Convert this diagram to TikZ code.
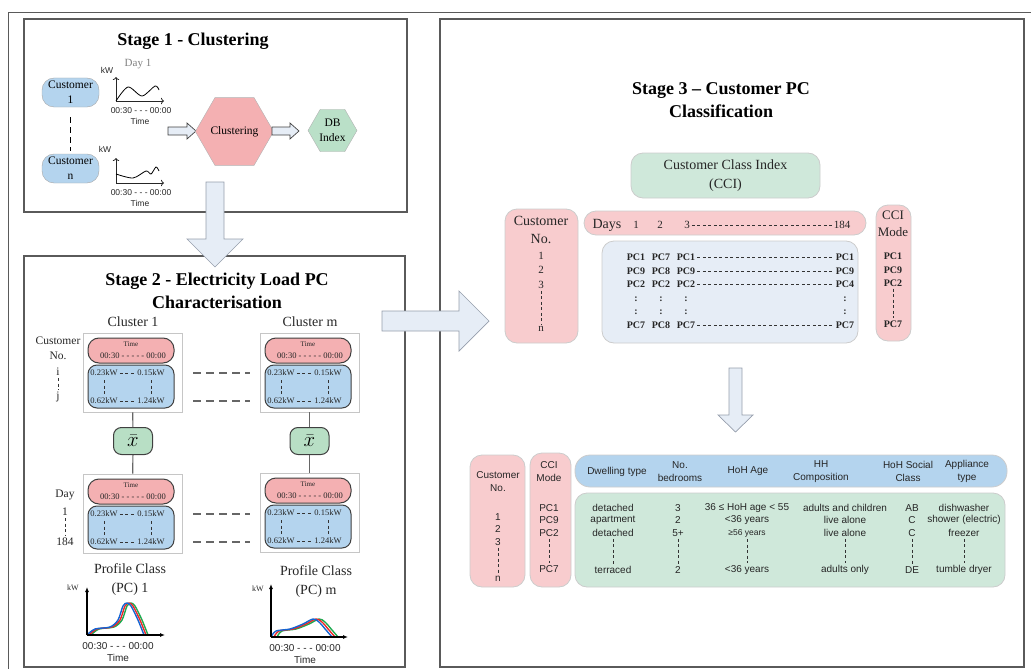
\documentclass[tikz,border=0pt]{standalone}
\usepackage{fontspec}
\setmainfont{Liberation Serif}
\setsansfont{Liberation Sans}
\usetikzlibrary{arrows.meta}
\usetikzlibrary{positioning,calc}
\usetikzlibrary{shapes.geometric}

\newcommand{\fsz}[2]{\fontsize{#1}{#2}\selectfont}

\definecolor{framegray}{RGB}{90,90,90}
\definecolor{custblue}{RGB}{180,212,238}
\definecolor{clustpink}{RGB}{244,176,178}
\definecolor{lightpink}{RGB}{248,204,206}
\definecolor{dbgreen}{RGB}{186,224,200}
\definecolor{meangreen}{RGB}{184,223,197}
\definecolor{ccigreen}{RGB}{207,232,218}
\definecolor{paleblue}{RGB}{230,237,246}
\definecolor{arrowgray}{RGB}{150,158,172}
\definecolor{pcblue}{RGB}{20,100,210}
\definecolor{pcred}{RGB}{235,40,40}
\definecolor{pcgreen}{RGB}{30,170,80}

\tikzset{
    stagebox/.style={draw=framegray, line width=1.1pt},
    title/.style={font=\bfseries\fsz{18}{23}, align=center, inner sep=0pt},
    lbl/.style={inner sep=0pt, align=center, text=black!85},
    sanslbl/.style={inner sep=0pt, align=center, text=black!85, font=\sffamily\fsz{8.5}{10}},
    tablbl/.style={inner sep=0pt, align=center, text=black!85, font=\sffamily\fsz{10}{13}},
    pclbl/.style={inner sep=0pt, text=black!85, font=\bfseries\fsz{10}{12}},
    custnode/.style={draw=gray!70, fill=custblue, rounded corners=12pt, minimum width=57pt,
        minimum height=29pt, inner sep=0pt, align=center, font=\fsz{11.5}{15}},
    hexnode/.style={regular polygon, regular polygon sides=6, draw=gray!60, inner sep=0pt,
        align=center, font=\fsz{11.5}{15}},
    blockarrow/.style={fill=paleblue, draw=arrowgray, line width=0.7pt},
    smallarrow/.style={fill=paleblue, draw=black!75, line width=0.7pt},
    panel/.style={draw=gray!45, fill=white, line width=0.8pt, minimum width=99pt, minimum height=79pt},
    timepill/.style={draw=black!75, fill=clustpink, line width=1pt, rounded corners=11pt,
        minimum width=86pt, minimum height=25pt},
    kwbox/.style={draw=black!75, fill=custblue, line width=1pt, rounded corners=9pt,
        minimum width=86pt, minimum height=43pt},
    meanbox/.style={draw=black!75, fill=meangreen, line width=1pt, rounded corners=8pt,
        minimum width=39pt, minimum height=27pt, inner sep=0pt, font=\fsz{20}{20}},
    softbox/.style={draw=gray!40, line width=0.8pt, rounded corners=12pt, inner sep=0pt},
    link/.style={draw=black!60, line width=1.2pt},
    gapdash/.style={draw=black!60, line width=1.3pt, dash pattern=on 8pt off 5pt},
    txtdash/.style={draw=black!80, line width=0.6pt, dash pattern=on 3pt off 2.5pt,
        shorten <=2pt, shorten >=2pt},
    axis/.style={draw=black!85, line width=0.8pt, -{To[length=3pt]}},
    axisb/.style={draw=black, line width=1.2pt, -{Latex[length=5pt,width=4pt]}},
    pcline/.style={line width=1.4pt}
}

\begin{document}
\begin{tikzpicture}[x=1pt, y=-1pt]
    \useasboundingbox (0,0) rectangle (1031,669);

    % Frame and stage boxes
    \draw[framegray, line width=0.9pt] (8,669) -- (8,12) -- (1031,12);
    \draw[stagebox] (24,19) rectangle (407,212);
    \draw[stagebox] (24,256) rectangle (405,667);
    \draw[stagebox] (440,19) rectangle (1024,667);

    % Stage 1
    \node[title] (t1) at (193,41) {Stage 1 - Clustering};
    \node[custnode] (c1) at (70.5,92.5) {Customer\\1};
    \node[custnode] (cn) at (70.5,168.5) {Customer\\n};
    \draw[line width=1pt, dash pattern=on 6pt off 4pt, shorten <=10pt, shorten >=3pt] (c1) -- (cn);

    \node[lbl, text=gray, font=\fsz{11}{13}] (day1) at (138,64) {Day 1};
    \node[sanslbl] (kw1) at (107,70) {kW};
    \coordinate (o1) at (116,101);
    \draw[axis] (o1) -- ++(0,-24);
    \draw[axis] (o1) -- ++(48,0);
    \draw[line width=0.8pt] plot[smooth] coordinates {(116,101) (128,87) (142,96) (155,86) (159,90)};
    \node[sanslbl] (tx1) at (141,111) {00:30 - - - 00:00};
    \node[sanslbl] (tm1) at (140,121) {Time};

    \node[sanslbl] (kw2) at (105,149) {kW};
    \coordinate (o2) at (116,183);
    \draw[axis] (o2) -- ++(0,-25);
    \draw[axis] (o2) -- ++(48,0);
    \draw[line width=0.8pt] plot[smooth] coordinates {(116,174) (133,178) (146,171) (151,174) (156,167) (159,171)};
    \node[sanslbl] (tx2) at (141,193) {00:30 - - - 00:00};
    \node[sanslbl] (tm2) at (140,203) {Time};

    \draw[smallarrow] (168,127) -- (187,127) -- (187,123) -- (196,131) -- (187,139) -- (187,135) -- (168,135) -- cycle;
    \node[hexnode, fill=clustpink, minimum size=65pt] (clus) at (234.5,131.5) {Clustering};
    \draw[smallarrow] (272,127) -- (290,127) -- (290,123) -- (299,131) -- (290,139) -- (290,135) -- (272,135) -- cycle;
    \node[hexnode, fill=dbgreen, minimum size=49pt] (dbi) at (332.5,130.5) {DB\\Index};

    \draw[blockarrow] (206,182) -- (224,182) -- (224,239) -- (243,239) -- (215,267) -- (187,239) -- (206,239) -- cycle;

    % Stage 2
    \node[title] (t2) at (217,291) {Stage 2 - Electricity Load PC\\Characterisation};
    \node[lbl, font=\fsz{14}{16}] (cl1) at (133,322) {Cluster 1};
    \node[lbl, font=\fsz{14}{16}] (clm) at (310,322) {Cluster m};

    \node[lbl, font=\fsz{11.5}{15}] (custno) at (58,348) {Customer\\No.};
    \node[lbl, font=\fsz{11.5}{15}] (ii) at (58,372) {i};
    \node[lbl, font=\fsz{11.5}{15}] (jj) at (58,397) {j};
    \draw[txtdash] (ii) -- (jj);
    \node[lbl, font=\fsz{11.5}{15}] (dayl) at (65,495) {Day};
    \node[lbl, font=\fsz{11.5}{15}] (d1) at (65,512) {1};
    \node[lbl, font=\fsz{11.5}{15}] (d184) at (65,542) {184};
    \draw[txtdash] (d1) -- (d184);

    \foreach \dx/\dy/\p in {0/0/a, 177/0/b, 0/141/c, 177/140/d}{
        \begin{scope}[shift={(\dx,\dy)}]
            \node[panel] (pan\p) at (132.5,372.5) {};
            \node[timepill] (tp\p) at (131,350.5) {};
            \node[lbl, font=\fsz{7}{8}] (tt\p) at (131,344.5) {Time};
            \node[lbl, font=\fsz{8.5}{10}] (tr\p) at (133,356) {00:30 - - - - - 00:00};
            \node[kwbox] (kb\p) at (131,386.5) {};
            \node[lbl, font=\fsz{8.5}{10}] (ka\p) at (104,373) {0.23kW};
            \node[lbl, font=\fsz{8.5}{10}] (kc\p) at (151,373) {0.15kW};
            \node[lbl, font=\fsz{8.5}{10}] (ke\p) at (104,401) {0.62kW};
            \node[lbl, font=\fsz{8.5}{10}] (kf\p) at (151,401) {1.24kW};
            \draw[txtdash] (ka\p) -- (kc\p);
            \draw[txtdash] (ke\p) -- (kf\p);
            \draw[txtdash, shorten <=4pt, shorten >=4pt] (ka\p) -- (ke\p);
            \draw[txtdash, shorten <=4pt, shorten >=4pt] (kc\p) -- (kf\p);
        \end{scope}
    }
    \draw[gapdash] ($(pana.east |- kaa)+(11,0)$) -- ($(panb.west |- kaa)+(-10,0)$);
    \draw[gapdash] ($(pana.east |- kea)+(11,0)$) -- ($(panb.west |- kea)+(-10,0)$);
    \draw[gapdash] ($(panc.east |- kac)+(11,0)$) -- ($(pand.west |- kac)+(-10,0)$);
    \draw[gapdash] ($(panc.east |- kec)+(11,0)$) -- ($(pand.west |- kec)+(-10,0)$);

    \node[meanbox] (xa) at (133,441) {$\bar{x}$};
    \node[meanbox] (xb) at (309.5,441) {$\bar{x}$};
    \draw[link] (pana) -- (xa);
    \draw[link] (xa) -- (panc);
    \draw[link] (panb) -- (xb);
    \draw[link] (xb) -- (pand);

    \node[lbl, font=\fsz{14}{19}] (pc1) at (130,580) {Profile Class\\(PC) 1};
    \node[lbl, font=\fsz{14}{19}] (pcm) at (316,582) {Profile Class\\(PC) m};

    % Profile class curves
    \node[lbl, font=\fsz{8}{9}] (kwp1) at (73,588) {kW};
    \coordinate (op1) at (87,635);
    \foreach \c/\s in {pcgreen/4, pcred/2, pcblue/0}{
        \draw[pcline, \c, xshift=\s] plot[smooth] coordinates {(87,635) (95,629) (110,627) (118,620) (123,606) (127,603) (131,606) (138,620) (144,635)};
    }
    \draw[axisb] (op1) -- ++(0,-48);
    \draw[axisb] (op1) -- ++(78,0);
    \node[lbl, font=\sffamily\fsz{10}{12}] (tp1x) at (118,646) {00:30 - - - 00:00};
    \node[lbl, font=\sffamily\fsz{10}{12}] (tp1t) at (118,658) {Time};

    \node[lbl, font=\fsz{8}{9}] (kwpm) at (258,589) {kW};
    \coordinate (opm) at (271,637);
    \foreach \c/\s in {pcgreen/6, pcred/3, pcblue/0}{
        \draw[pcline, \c, xshift=\s] plot[smooth] coordinates {(271,637) (276,631) (290,629) (303,624) (313,619) (319,622) (326,630) (332,637)};
    }
    \draw[axisb] (opm) -- ++(0,-53);
    \draw[axisb] (opm) -- ++(77,0);
    \node[lbl, font=\sffamily\fsz{10}{12}] (tpmx) at (305,648) {00:30 - - - 00:00};
    \node[lbl, font=\sffamily\fsz{10}{12}] (tpmt) at (305,660) {Time};

    \draw[blockarrow] (382,311) -- (459,311) -- (459,291) -- (489,321) -- (459,351) -- (459,331) -- (382,331) -- cycle;

    % Stage 3
    \node[title] (t3) at (721,100.5) {Stage 3 – Customer PC\\Classification};
    \node[softbox, fill=ccigreen, minimum width=189pt, minimum height=45pt, align=center,
        font=\fsz{14}{19}, text=black!85] (cci) at (725.5,175.5) {Customer Class Index\\(CCI)};

    \node[softbox, fill=lightpink, minimum width=73pt, minimum height=134pt] (cust3) at (541.5,276) {};
    \node[lbl, font=\fsz{14}{18}] (cust3l) at (541,230) {Customer\\No.};
    \foreach \n/\y in {1/256, 2/270, 3/285, n/329}
        \node[lbl, font=\fsz{11}{13}] (s3c\n) at (541,\y) {\n};
    \draw[txtdash] (s3c3) -- (s3cn);

    \node[softbox, fill=lightpink, minimum width=282pt, minimum height=24pt] (days) at (725,223) {};
    \node[lbl, font=\fsz{14}{16}] (daysl) at (607,225) {Days};
    \foreach \n/\x in {1/636, 2/660, 3/687, 184/842}
        \node[lbl, font=\fsz{11}{13}] (dy\n) at (\x,225) {\n};
    \draw[txtdash] (dy3) -- (dy184);

    \node[softbox, fill=paleblue, minimum width=256pt, minimum height=102pt] (pcbox) at (730,292) {};
    \foreach \a/\b/\c/\d/\y [count=\i] in {PC1/PC7/PC1/PC1/257, PC9/PC8/PC9/PC9/271, PC2/PC2/PC2/PC4/284, PC7/PC8/PC7/PC7/325}{
        \node[pclbl] (r\i-a) at (636,\y) {\a};
        \node[pclbl] (r\i-b) at (661,\y) {\b};
        \node[pclbl] (r\i-c) at (686,\y) {\c};
        \node[pclbl] (r\i-d) at (845,\y) {\d};
        \draw[txtdash] (r\i-c) -- (r\i-d);
    }
    \foreach \x in {636,661,686,845}
        \foreach \y in {299,312}
            \node[pclbl] (col\x-\y) at (\x,\y) {:};

    \node[softbox, fill=lightpink, minimum width=35pt, minimum height=136pt] (mode3) at (893.5,273) {};
    \node[lbl, font=\fsz{13}{17}] (mode3l) at (893,224) {CCI\\Mode};
    \foreach \t/\y in {PC1/256, PC9/270, PC2/283, PC7/324}
        \node[pclbl] (m3\t) at (893,\y) {\t};
    \draw[txtdash] (m3PC2) -- (m3PC7);

    \draw[blockarrow] (729,368) -- (742,368) -- (742,415) -- (753,415) -- (735.5,432) -- (718,415) -- (729,415) -- cycle;

    % Customer table
    \node[softbox, fill=lightpink, minimum width=55pt, minimum height=132pt] (cust4) at (497.5,521) {};
    \node[tablbl] (cust4l) at (498,481.5) {Customer\\No.};
    \foreach \n/\y in {1/517, 2/529, 3/542, n/579}
        \node[tablbl] (s4c\n) at (498,\y) {\n};
    \draw[txtdash] (s4c3) -- (s4cn);

    \node[softbox, fill=lightpink, minimum width=41pt, minimum height=134pt] (mode4) at (550.5,520) {};
    \node[tablbl] (mode4l) at (549,471.5) {CCI\\Mode};
    \foreach \t/\y in {PC1/508, PC9/520, PC2/533, PC7/569}
        \node[tablbl] (m4\t) at (549,\y) {\t};
    \draw[txtdash] (m4PC2) -- (m4PC7);

    \node[softbox, fill=custblue, rounded corners=15pt, minimum width=432pt, minimum height=32pt] (head4) at (791,471) {};
    \node[softbox, fill=ccigreen, minimum width=430pt, minimum height=94pt] (body4) at (790,540) {};
    \foreach \x/\t in {617/Dwelling type, 680/No.\\bedrooms, 748/HoH Age, 821/HH\\Composition, 908/HoH Social\\Class, 967/Appliance\\type}
        \node[tablbl] (h\x) at (\x,471.5) {\t};

    \foreach \x/\n/\a/\b/\c/\d in {
        613/dw/detached/apartment/detached/terraced,
        678/bd/3/2/5+/2,
        747/ag/36 ≤ HoH age < 55/<36 years/{\fsz{8.5}{10}≥56 years}/<36 years,
        845/hc/adults and children/live alone/live alone/adults only,
        912/sc/AB/C/C/DE,
        964/ap/dishwasher/shower (electric)/freezer/tumble dryer}{
        \node[tablbl] (\n-1) at (\x,508) {\a};
        \node[tablbl] (\n-2) at (\x,520) {\b};
        \node[tablbl] (\n-3) at (\x,533) {\c};
        \node[tablbl] (\n-4) at (\x,570) {\d};
        \draw[txtdash] (\n-3) -- (\n-4);
    }
\end{tikzpicture}
\end{document}
